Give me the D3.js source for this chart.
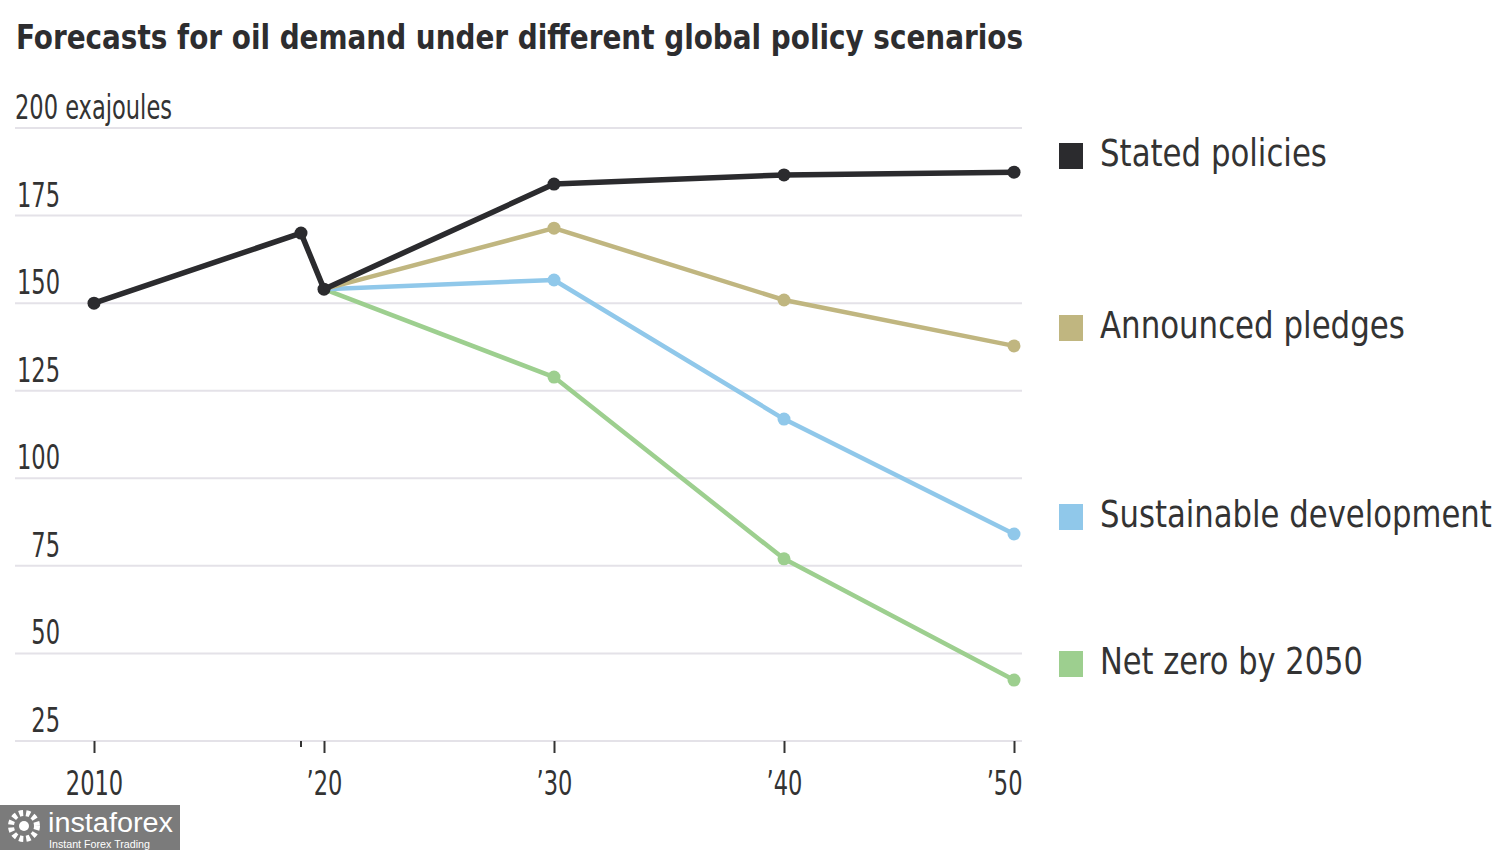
<!DOCTYPE html>
<html><head><meta charset="utf-8">
<script src="https://cdn.jsdelivr.net/npm/d3@7"></script>
<style>
body{margin:0;background:#fff;}
svg{display:block;}
</style></head>
<body>
<svg id="chart" width="1500" height="850"></svg>
<script>
const title = "Forecasts for oil demand under different global policy scenarios";
const unitLabel = "exajoules";
const yTicks = [25, 50, 75, 100, 125, 150, 175, 200];
const xTicks = [2010, 2020, 2030, 2040, 2050];
const xTickLabels = ["2010", "\u201920", "\u201930", "\u201940", "\u201950"];
const minorTicks = [2019];

const historyYears = [2010, 2019, 2020];
const historyValues = [150, 170, 154];
const forecastYears = [2020, 2030, 2040, 2050];
const seriesNames = ["Stated policies", "Announced pledges", "Sustainable development", "Net zero by 2050"];
const statedValues = [154, 184, 186.6, 187.4];
const pledgesValues = [154, 171.4, 150.9, 137.8];
const sustainableValues = [154, 156.6, 116.9, 84.1];
const netZeroValues = [154, 128.9, 77, 42.4];
const seriesColors = ["#2b2b2e", "#c0b680", "#90c8ea", "#9dcf8f"];

const svg = d3.select("#chart");
const font = "'DejaVu Sans Condensed', 'DejaVu Sans', sans-serif";
const NUM_K = 0.76;

function condense(sel, k) {
  sel.each(function () {
    const w = this.getComputedTextLength();
    d3.select(this).attr("textLength", w * k).attr("lengthAdjust", "spacingAndGlyphs");
  });
}
function fitTo(sel, w) {
  sel.attr("textLength", w).attr("lengthAdjust", "spacingAndGlyphs");
}

const x = d3.scaleLinear().domain([2010, 2050]).range([94, 1014]);
const y = d3.scaleLinear().domain([25, 200]).range([741, 128]);
const gridX0 = 15, gridX1 = 1022;

// title
svg.append("text").attr("x", 16).attr("y", 49)
  .attr("font-family", font).attr("font-weight", "bold").attr("font-size", 34)
  .attr("fill", "#2d2d2f").text(title).call(fitTo, 1007);

// gridlines
svg.append("g").selectAll("line").data(yTicks).join("line")
  .attr("x1", gridX0).attr("x2", gridX1)
  .attr("y1", d => y(d)).attr("y2", d => y(d))
  .attr("stroke", "#e4e2e8").attr("stroke-width", 2);

// y labels
svg.append("text").attr("x", 15).attr("y", y(200) - 9)
  .attr("font-family", font).attr("font-size", 33).attr("fill", "#333")
  .text(yTicks[yTicks.length - 1] + " " + unitLabel).call(fitTo, 157);
svg.append("g").selectAll("text").data(yTicks.slice(0, -1)).join("text")
  .attr("x", 60).attr("y", d => y(d) - 9).attr("text-anchor", "end")
  .attr("font-family", font).attr("font-size", 33).attr("fill", "#333")
  .text(d => d).call(condense, NUM_K);

// x axis
const xAxis = d3.axisBottom(x).tickValues(xTicks)
  .tickFormat((d, i) => xTickLabels[i]).tickSize(12).tickPadding(19);
const gx = svg.append("g").attr("transform", `translate(0,${y(25)})`).call(xAxis);
gx.select(".domain").remove();
gx.selectAll(".tick line").attr("stroke", "#333").attr("stroke-width", 2);
gx.selectAll(".tick text").attr("font-family", font).attr("font-size", 33).attr("fill", "#333")
  .call(condense, NUM_K);
gx.selectAll(".tick text").filter(d => d === xTicks[xTicks.length - 1])
  .attr("text-anchor", "end").attr("x", 8);
svg.append("g").selectAll("line").data(minorTicks).join("line")
  .attr("x1", d => x(d)).attr("x2", d => x(d))
  .attr("y1", y(25)).attr("y2", y(25) + 6)
  .attr("stroke", "#333").attr("stroke-width", 2);

const line = d3.line().x(d => x(d[0])).y(d => y(d[1]));

const forecasts = [statedValues, pledgesValues, sustainableValues, netZeroValues];
const drawOrder = [3, 2, 1, 0];
drawOrder.forEach(i => {
  const pts = forecastYears.map((yr, j) => [yr, forecasts[i][j]]);
  const w = i === 0 ? 5.5 : 4.5;
  if (i === 0) {
    const hist = historyYears.map((yr, j) => [yr, historyValues[j]]);
    svg.append("path").datum(hist).attr("d", line).attr("fill", "none")
      .attr("stroke", seriesColors[0]).attr("stroke-width", w).attr("stroke-linejoin", "round");
    svg.append("g").selectAll("circle").data(hist).join("circle")
      .attr("cx", d => x(d[0])).attr("cy", d => y(d[1])).attr("r", 6.5).attr("fill", seriesColors[0]);
  }
  svg.append("path").datum(pts).attr("d", line).attr("fill", "none")
    .attr("stroke", seriesColors[i]).attr("stroke-width", w).attr("stroke-linejoin", "round");
  svg.append("g").selectAll("circle").data(pts.slice(1)).join("circle")
    .attr("cx", d => x(d[0])).attr("cy", d => y(d[1])).attr("r", 6.5).attr("fill", seriesColors[i]);
});

// legend
const legendBase = [166, 338, 527, 674];
const legendWidths = [227, 305, 392, 263];
const lg = svg.append("g");
seriesNames.forEach((name, i) => {
  lg.append("rect").attr("x", 1059).attr("y", legendBase[i] - 23).attr("width", 24).attr("height", 26)
    .attr("fill", seriesColors[i]);
  const t = lg.append("text").attr("x", 0).attr("y", 0)
    .attr("font-family", font).attr("font-size", 37).attr("fill", "#333").text(name);
  const nat = t.node().getComputedTextLength();
  t.attr("transform", `translate(1100,${legendBase[i]}) scale(${legendWidths[i] / nat},1)`);
});

// watermark
const wm = svg.append("g");
wm.append("rect").attr("x", 0).attr("y", 805).attr("width", 180).attr("height", 45).attr("fill", "#7b7b7b");
wm.append("circle").attr("cx", 24).attr("cy", 826).attr("r", 13).attr("fill", "none").attr("stroke", "#fff").attr("stroke-width", 6).attr("stroke-dasharray", "4 3");
wm.append("circle").attr("cx", 24).attr("cy", 826).attr("r", 5).attr("fill", "#fff");
wm.append("text").attr("x", 48).attr("y", 832).attr("font-family", "'Liberation Sans', Arial, sans-serif")
  .attr("font-size", 27).attr("fill", "#fff").text("instaforex").call(fitTo, 125);
wm.append("text").attr("x", 49).attr("y", 848).attr("font-family", "'Liberation Sans', Arial, sans-serif")
  .attr("font-size", 10).attr("fill", "#fff").text("Instant Forex Trading").call(fitTo, 101);
</script>
</body></html>
